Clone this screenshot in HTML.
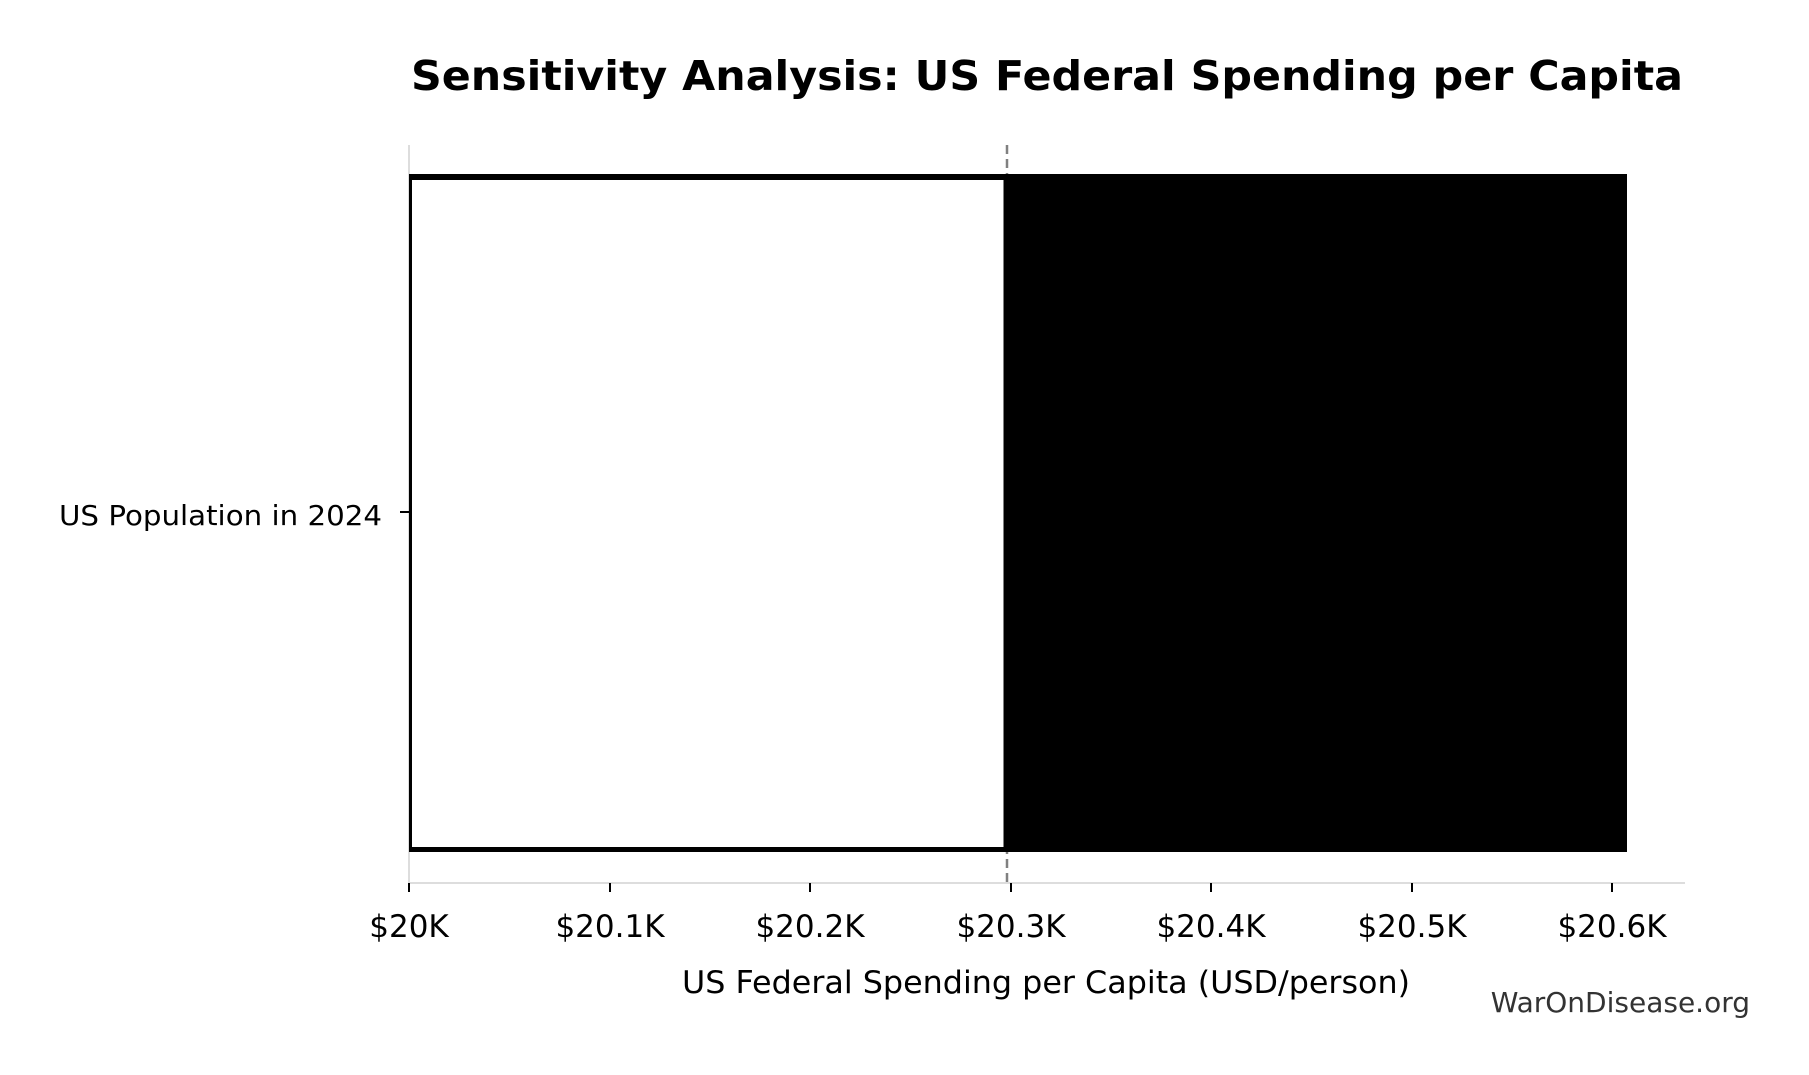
<!DOCTYPE html>
<html><head><meta charset="utf-8"><style>html,body{margin:0;padding:0;background:#fff}svg{display:block}</style></head>
<body>
<svg width="1809" height="1075" viewBox="0 0 1809 1075" xmlns="http://www.w3.org/2000/svg" font-family="'DejaVu Sans','Liberation Sans',sans-serif">
<rect width="1809" height="1075" fill="#fff"/>
<text x="1047" y="90" text-anchor="middle" font-size="41" font-weight="bold" textLength="1272" lengthAdjust="spacingAndGlyphs">Sensitivity Analysis: US Federal Spending per Capita</text>
<line x1="409" y1="145" x2="409" y2="883" stroke="#ddd" stroke-width="2"/>
<line x1="409" y1="883" x2="1685" y2="883" stroke="#ddd" stroke-width="2"/>
<line x1="1007" y1="145" x2="1007" y2="883" stroke="#808080" stroke-width="2.5" stroke-dasharray="9,5"/>
<rect x="1004" y="174" width="623" height="678" fill="#000"/>
<rect x="410.5" y="177" width="594.5" height="672.5" fill="#fff" stroke="#000" stroke-width="3"/>
<rect x="409" y="174" width="596" height="6" fill="#000"/>
<rect x="409" y="847" width="596" height="5" fill="#000"/>
<g stroke="#000" stroke-width="2">
<line x1="409" y1="883" x2="409" y2="892"/><line x1="610" y1="883" x2="610" y2="892"/><line x1="810" y1="883" x2="810" y2="892"/><line x1="1011" y1="883" x2="1011" y2="892"/><line x1="1211" y1="883" x2="1211" y2="892"/><line x1="1412" y1="883" x2="1412" y2="892"/><line x1="1612" y1="883" x2="1612" y2="892"/>
<line x1="400" y1="512" x2="409" y2="512"/>
</g>
<g font-size="31" text-anchor="middle">
<text x="409" y="937">$20K</text><text x="610" y="937">$20.1K</text><text x="810" y="937">$20.2K</text><text x="1011" y="937">$20.3K</text><text x="1211" y="937">$20.4K</text><text x="1412" y="937">$20.5K</text><text x="1612" y="937">$20.6K</text>
</g>
<text x="382" y="525" font-size="28" text-anchor="end" textLength="323" lengthAdjust="spacingAndGlyphs">US Population in 2024</text>
<text x="1046" y="993" font-size="31" text-anchor="middle" textLength="728" lengthAdjust="spacingAndGlyphs">US Federal Spending per Capita (USD/person)</text>
<text x="1750" y="1012" font-size="28" text-anchor="end" fill="#333">WarOnDisease.org</text>
</svg>
</body></html>
